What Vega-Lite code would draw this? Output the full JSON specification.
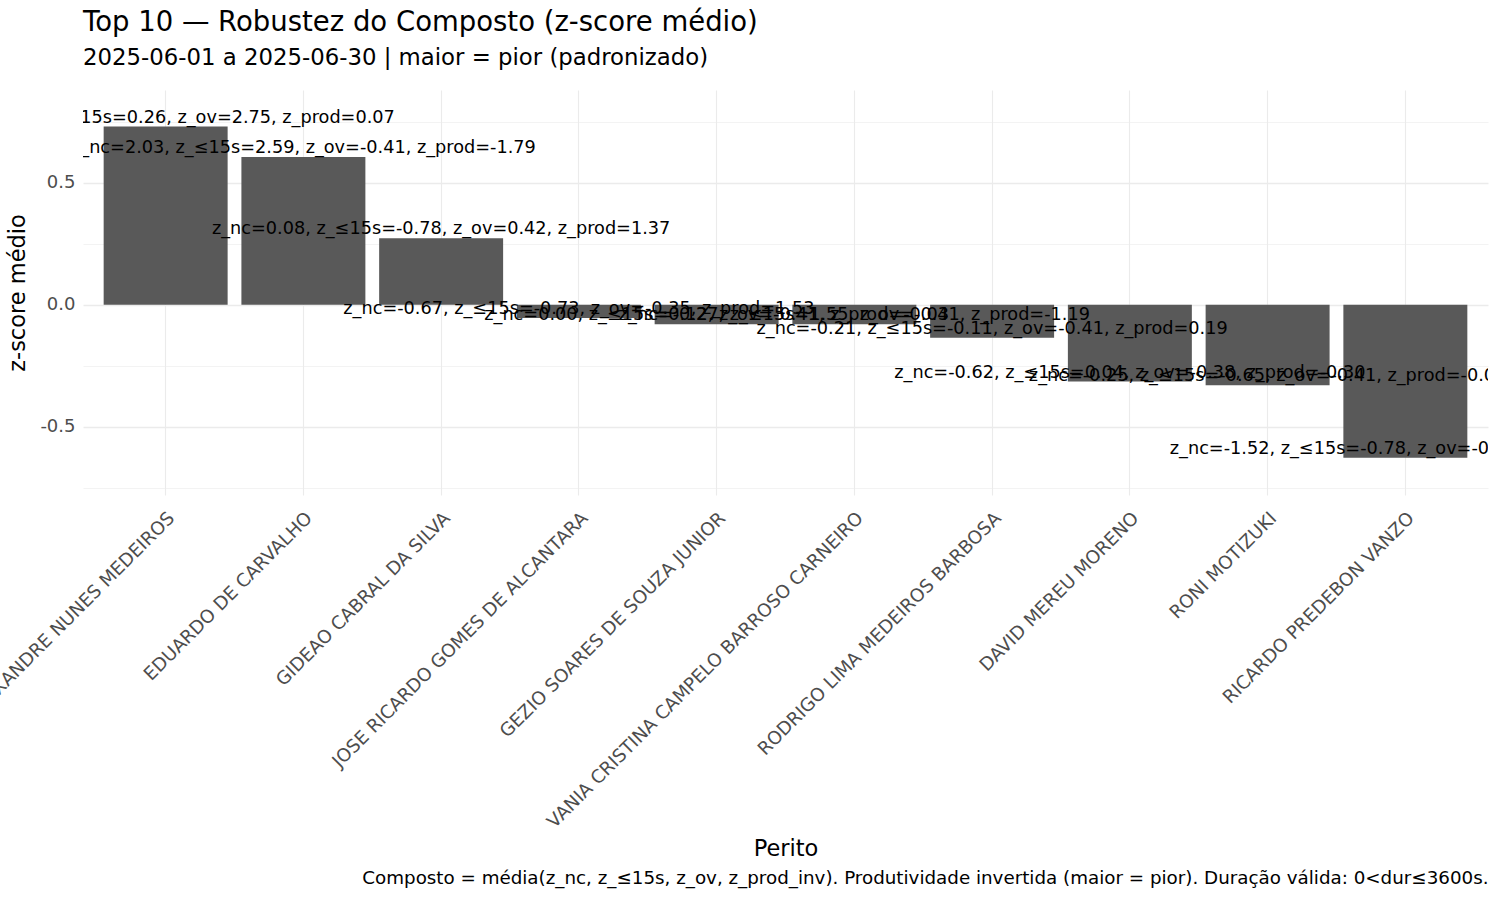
{
  "$schema": "https://vega.github.io/schema/vega-lite/v6.json",
  "autosize": "none",
  "width": 1405,
  "height": 405,
  "padding": {"left": 83, "top": 90, "right": 12, "bottom": 405},
  "background": "white",
  "config": {"font": "DejaVu Sans", "view": {"stroke": null}},
  "title": {
    "text": "Top 10 — Robustez do Composto (z-score médio)",
    "subtitle": "2025-06-01 a 2025-06-30 | maior = pior (padronizado)",
    "anchor": "start", "frame": "group",
    "fontSize": 27.5, "fontWeight": "normal", "color": "black",
    "subtitleFontSize": 22.8, "subtitleColor": "black",
    "offset": 20, "subtitlePadding": 11
  },
  "data": {
    "values": [
      {"perito": "ALEXANDRE NUNES MEDEIROS", "composto": 0.73, "rotulo": "z_nc=-0.16, z_≤15s=0.26, z_ov=2.75, z_prod=0.07"},
      {"perito": "EDUARDO DE CARVALHO", "composto": 0.605, "rotulo": "z_nc=2.03, z_≤15s=2.59, z_ov=-0.41, z_prod=-1.79"},
      {"perito": "GIDEAO CABRAL DA SILVA", "composto": 0.2725, "rotulo": "z_nc=0.08, z_≤15s=-0.78, z_ov=0.42, z_prod=1.37"},
      {"perito": "JOSE RICARDO GOMES DE ALCANTARA", "composto": -0.055, "rotulo": "z_nc=-0.67, z_≤15s=-0.73, z_ov=-0.35, z_prod=1.53"},
      {"perito": "GEZIO SOARES DE SOUZA JUNIOR", "composto": -0.08, "rotulo": "z_nc=0.00, z_≤15s=0.12, z_ov=-0.41, z_prod=-0.03"},
      {"perito": "VANIA CRISTINA CAMPELO BARROSO CARNEIRO", "composto": -0.08, "rotulo": "z_nc=-0.27, z_≤15s=1.55, z_ov=-0.41, z_prod=-1.19"},
      {"perito": "RODRIGO LIMA MEDEIROS BARBOSA", "composto": -0.135, "rotulo": "z_nc=-0.21, z_≤15s=-0.11, z_ov=-0.41, z_prod=0.19"},
      {"perito": "DAVID MEREU MORENO", "composto": -0.315, "rotulo": "z_nc=-0.62, z_≤15s=0.04, z_ov=-0.38, z_prod=-0.30"},
      {"perito": "RONI MOTIZUKI", "composto": -0.33, "rotulo": "z_nc=-0.25, z_≤15s=-0.65, z_ov=-0.41, z_prod=-0.01"},
      {"perito": "RICARDO PREDEBON VANZO", "composto": -0.6275, "rotulo": "z_nc=-1.52, z_≤15s=-0.78, z_ov=-0.41, z_prod=0.20"}
    ]
  },
  "resolve": {"axis": {"x": "independent"}},
  "layer": [
    {
      "mark": {"type": "bar", "color": "#595959"},
      "encoding": {
        "x": {
          "field": "perito", "type": "nominal", "sort": null,
          "scale": {"paddingInner": 0.1, "paddingOuter": 0.15},
          "axis": {
            "orient": "bottom",
            "title": "Perito", "titleFontSize": 22.5, "titleFontWeight": "normal", "titleColor": "black", "titlePadding": 142,
            "labelAngle": -45, "labelAlign": "right", "labelBaseline": "top", "labelFontSize": 18.3, "labelColor": "#4d4d4d",
            "labelPadding": 14, "labelLimit": 0, "labelOverlap": false,
            "ticks": false, "domain": false, "grid": true, "gridColor": "#ebebeb", "gridWidth": 1.1, "bandPosition": 0.5
          }
        },
        "y": {
          "field": "composto", "type": "quantitative",
          "scale": {"domain": [-0.78, 0.88], "nice": false, "zero": true},
          "axis": {
            "title": "z-score médio", "titleFontSize": 22.5, "titleFontWeight": "normal", "titleColor": "black", "titlePadding": 10,
            "labelFontSize": 18, "labelColor": "#4d4d4d", "labelPadding": 8,
            "values": [-0.75, -0.5, -0.25, 0, 0.25, 0.5, 0.75],
            "labelExpr": "abs(datum.value % 0.5) < 1e-9 ? replace(format(datum.value, '.1f'), '−', '-') : ''",
            "ticks": false, "domain": false, "grid": true, "gridColor": "#ebebeb",
            "gridWidth": {"condition": {"test": "abs(datum.value % 0.5) < 1e-9", "value": 1.3}, "value": 0.6}
          }
        }
      }
    },
    {
      "mark": {"type": "text", "clip": true, "dy": -9, "fontSize": 17.7, "color": "black", "baseline": "middle", "align": "center"},
      "encoding": {
        "x": {
          "field": "perito", "type": "nominal", "sort": null,
          "axis": {
            "orient": "bottom",
            "title": "Composto = média(z_nc, z_≤15s, z_ov, z_prod_inv). Produtividade invertida (maior = pior). Duração válida: 0<dur≤3600s.",
            "titleFontSize": 18.3, "titleFontWeight": "normal", "titleColor": "black",
            "titleAnchor": "end", "titlePadding": 374,
            "labels": false, "ticks": false, "domain": false, "grid": false
          }
        },
        "y": {"field": "composto", "type": "quantitative"},
        "text": {"field": "rotulo"}
      }
    }
  ]
}
